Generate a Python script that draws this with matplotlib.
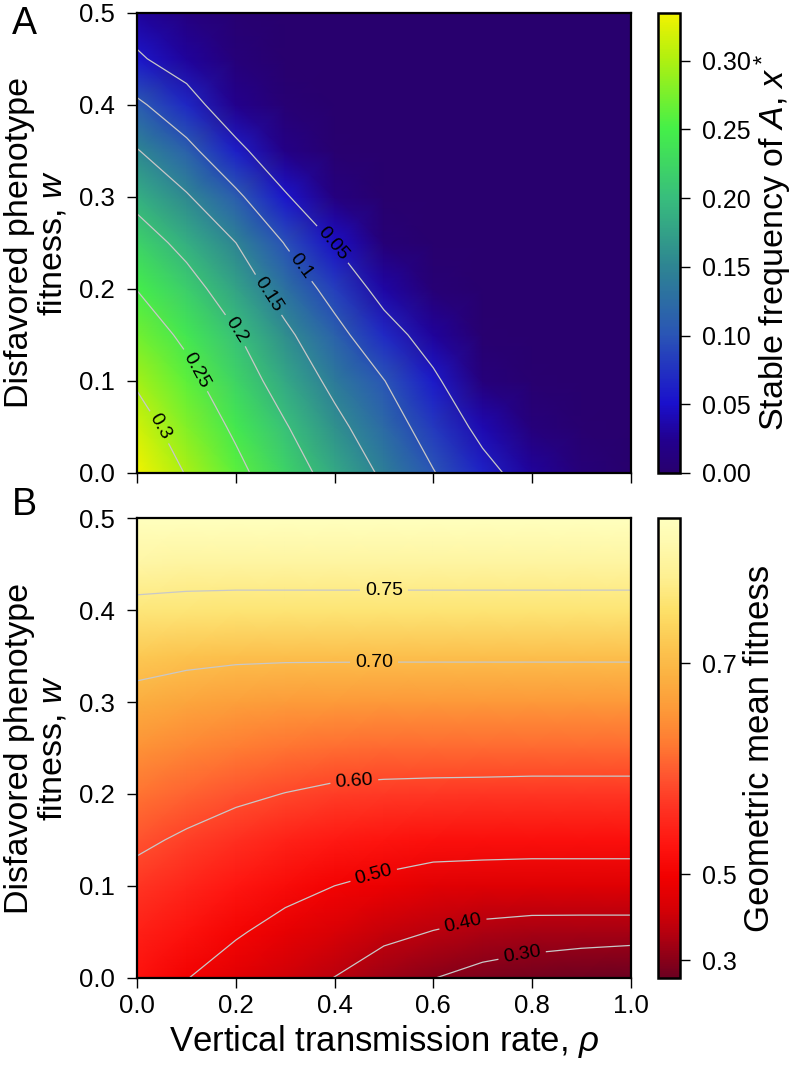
import numpy as np
import matplotlib
matplotlib.use('Agg')
import matplotlib.pyplot as plt
from matplotlib import colors as mcolors

plt.rcParams['font.family'] = ['Liberation Sans', 'DejaVu Sans']
plt.rcParams['mathtext.fontset'] = 'custom'
plt.rcParams['mathtext.rm'] = 'Liberation Sans'
plt.rcParams['mathtext.it'] = 'Liberation Sans:italic'

#%% data (rows = w, columns = rho)
rho = [0.0, 0.1, 0.2, 0.3, 0.4, 0.5, 0.6, 0.7, 0.8, 0.9, 1.0]
w = [0.0, 0.05, 0.10, 0.15, 0.20, 0.25, 0.30, 0.35, 0.40, 0.45, 0.50]

# panel A: stable frequency of A, x*
xstar = [
    [0.334, 0.298, 0.261, 0.222, 0.183, 0.143, 0.102, 0.064, 0.030, 0.008, 0.000],
    [0.317, 0.280, 0.243, 0.203, 0.162, 0.122, 0.081, 0.038, 0.010, 0.002, 0.000],
    [0.295, 0.262, 0.223, 0.181, 0.139, 0.101, 0.058, 0.010, 0.002, 0.000, 0.000],
    [0.272, 0.242, 0.203, 0.159, 0.114, 0.069, 0.030, 0.002, 0.000, 0.000, 0.000],
    [0.249, 0.216, 0.177, 0.130, 0.084, 0.034, 0.006, 0.000, 0.000, 0.000, 0.000],
    [0.220, 0.188, 0.150, 0.098, 0.048, 0.007, 0.000, 0.000, 0.000, 0.000, 0.000],
    [0.188, 0.154, 0.109, 0.054, 0.012, 0.001, 0.000, 0.000, 0.000, 0.000, 0.000],
    [0.152, 0.113, 0.061, 0.018, 0.002, 0.000, 0.000, 0.000, 0.000, 0.000, 0.000],
    [0.108, 0.067, 0.022, 0.004, 0.000, 0.000, 0.000, 0.000, 0.000, 0.000, 0.000],
    [0.055, 0.030, 0.008, 0.000, 0.000, 0.000, 0.000, 0.000, 0.000, 0.000, 0.000],
    [0.030, 0.012, 0.003, 0.000, 0.000, 0.000, 0.000, 0.000, 0.000, 0.000, 0.000],
]

# panel B: geometric mean fitness
gmean = [
    [0.532, 0.502, 0.468, 0.434, 0.399, 0.351, 0.303, 0.261, 0.223, 0.183, 0.145],
    [0.557, 0.532, 0.507, 0.478, 0.449, 0.422, 0.398, 0.377, 0.367, 0.366, 0.366],
    [0.583, 0.562, 0.542, 0.520, 0.500, 0.484, 0.468, 0.463, 0.460, 0.460, 0.460],
    [0.609, 0.593, 0.576, 0.559, 0.545, 0.537, 0.530, 0.529, 0.528, 0.528, 0.528],
    [0.635, 0.622, 0.610, 0.599, 0.590, 0.587, 0.585, 0.584, 0.583, 0.583, 0.583],
    [0.661, 0.651, 0.642, 0.635, 0.630, 0.628, 0.628, 0.628, 0.627, 0.627, 0.627],
    [0.688, 0.680, 0.674, 0.670, 0.668, 0.667, 0.667, 0.667, 0.667, 0.667, 0.667],
    [0.714, 0.709, 0.706, 0.705, 0.705, 0.705, 0.705, 0.705, 0.705, 0.705, 0.705],
    [0.742, 0.741, 0.740, 0.740, 0.740, 0.740, 0.740, 0.740, 0.740, 0.740, 0.740],
    [0.766, 0.763, 0.763, 0.763, 0.763, 0.763, 0.763, 0.763, 0.763, 0.763, 0.763],
    [0.786, 0.786, 0.786, 0.786, 0.786, 0.786, 0.786, 0.786, 0.786, 0.786, 0.786],
]

levels_a = [0.05, 0.1, 0.15, 0.2, 0.25, 0.3]
levels_b = [0.3, 0.4, 0.5, 0.6, 0.7, 0.75]
ticks_a = [0.0, 0.05, 0.10, 0.15, 0.20, 0.25, 0.30]
ticks_b = [0.3, 0.5, 0.7]

#%% colour maps
cmap_a = mcolors.LinearSegmentedColormap.from_list('freq', [
    (0.0, '#28006e'), (0.07, '#22008f'), (0.15, '#1a10cc'), (0.30, '#2a55b5'),
    (0.45, '#2e8592'), (0.60, '#38be7c'), (0.75, '#45f048'), (0.90, '#b0f010'),
    (1.0, '#f2f200')])
cmap_b = mcolors.LinearSegmentedColormap.from_list('gmf', [
    (0.0, '#6b0021'), (0.04, '#8a0018'), (0.09, '#b00010'), (0.15, '#d60005'),
    (0.22, '#f20000'), (0.29, '#ff1510'), (0.37, '#ff3222'), (0.44, '#ff5530'),
    (0.51, '#ff7a32'), (0.58, '#fd9838'), (0.66, '#fbb242'), (0.73, '#fcc852'),
    (0.80, '#fde068'), (0.87, '#feef90'), (0.95, '#fffab0'), (1.0, '#ffffbe')])

gamma = 3.25
norm_b = mcolors.FuncNorm((lambda v: np.power(v, gamma), lambda u: np.power(u, 1.0 / gamma)),
                          vmin=0.145, vmax=0.786)

R, W = np.meshgrid(rho, w)
X = np.array(xstar)
G = np.array(gmean)

fig = plt.figure(figsize=(7.96, 10.65), dpi=100)
ax_a = fig.add_axes([0.1725, 0.5559, 0.6196, 0.4322])
ax_b = fig.add_axes([0.1725, 0.0820, 0.6196, 0.4314])
cax_a = fig.add_axes([0.8263, 0.5559, 0.028, 0.4322])
cax_b = fig.add_axes([0.8263, 0.0814, 0.028, 0.4319])

line_col = '#c8c8c8'

#%% panel A
m_a = ax_a.pcolormesh(R, W, X, cmap=cmap_a, vmin=0.0, vmax=0.335, shading='gouraud')
cs_a = ax_a.contour(R, W, X, levels=levels_a, colors=line_col, linewidths=0.9)
ax_a.clabel(cs_a, fmt='%g', fontsize=14, colors='black', inline=True,
            manual=[(0.40, 0.25), (0.335, 0.226), (0.27, 0.195), (0.20, 0.155),
                    (0.12, 0.112), (0.046, 0.05)])

#%% panel B
m_b = ax_b.pcolormesh(R, W, G, cmap=cmap_b, norm=norm_b, shading='gouraud')
cs_b = ax_b.contour(R, W, G, levels=levels_b, colors=line_col, linewidths=0.9)
ax_b.clabel(cs_b, fmt='%.2f', fontsize=14, colors='black', inline=True,
            manual=[(0.50, 0.422), (0.48, 0.343), (0.44, 0.213), (0.48, 0.11),
                    (0.66, 0.059), (0.78, 0.025)])

for ax in (ax_a, ax_b):
    ax.set_xlim(0, 1)
    ax.set_ylim(0, 0.5)
    ax.set_xticks([0.0, 0.2, 0.4, 0.6, 0.8, 1.0])
    ax.set_yticks([0.0, 0.1, 0.2, 0.3, 0.4, 0.5])
    ax.tick_params(direction='out', length=7, width=1, labelsize=18.5)
    ax.tick_params(axis='y', pad=9)
    ax.tick_params(axis='x', pad=5)
    for s in ax.spines.values():
        s.set_linewidth(1.6)
    ax.set_ylabel('Disfavored phenotype\nfitness, $w$', fontsize=24.5, labelpad=8,
                  linespacing=1.05)

ax_a.tick_params(labelbottom=False)
ax_b.set_xticklabels(['0.0', '0.2', '0.4', '0.6', '0.8', '1.0'])
ax_b.set_xlabel(r'Vertical transmission rate, $\rho$', fontsize=25, labelpad=3)

#%% colour bars
cb_a = fig.colorbar(m_a, cax=cax_a, ticks=ticks_a)
cb_a.ax.set_yticklabels(['%.2f' % t for t in ticks_a])
cb_a.set_label('Stable frequency of $A$, $x^*$', fontsize=24.5, labelpad=1)

cb_b = fig.colorbar(m_b, cax=cax_b, ticks=ticks_b)
cb_b.ax.set_yticklabels(['%.1f' % t for t in ticks_b])
cb_b.ax.minorticks_off()
cb_b.set_label('Geometric mean fitness', fontsize=25, labelpad=4)

for cb in (cb_a, cb_b):
    cb.outline.set_linewidth(1.8)
    cb.ax.tick_params(direction='out', length=7, width=1, labelsize=18, pad=9)

fig.text(0.015, 1 - 6 / 1065, 'A', fontsize=27, va='top', ha='left')
fig.text(0.015, 1 - 487 / 1065, 'B', fontsize=27, va='top', ha='left')

fig.savefig('out.png', dpi=100)
